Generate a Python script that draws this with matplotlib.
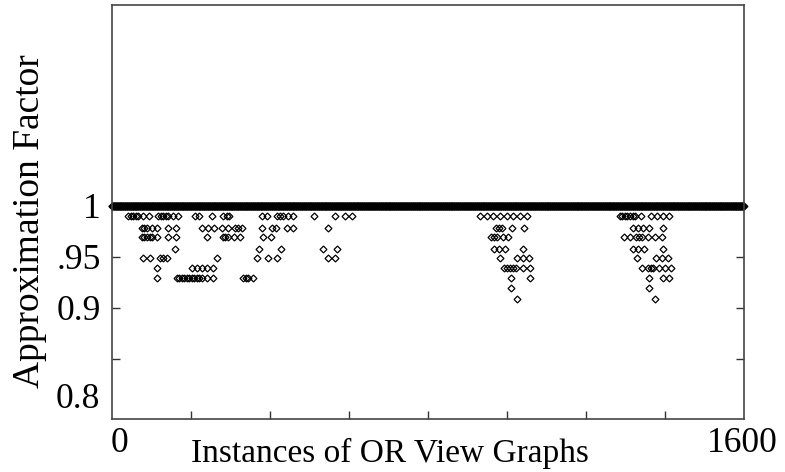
import numpy as np
import matplotlib
matplotlib.use("Agg")
import matplotlib.pyplot as plt

plt.rcParams['font.family'] = ['Liberation Serif', 'DejaVu Serif']

# number of instances, every one of them reaches factor 1
n_instances = 1600

# instances whose factor falls below 1 (x = instance index), grouped by level
x_990 = [41, 48, 54, 60, 67, 79, 94, 117, 124, 130, 137, 143, 155, 168,
         210, 221, 252, 282, 290, 297, 379, 392, 417, 425, 432, 446, 459,
         512, 565, 590, 607, 932, 949, 965, 982, 999, 1016, 1033, 1051,
         1286, 1292, 1299, 1305, 1311, 1318, 1324, 1338, 1364, 1379, 1394, 1409]
x_978 = [75, 82, 88, 101, 113, 143, 162, 227, 244, 259, 278, 294, 311, 320, 328,
         379, 404, 415, 442, 459, 548, 972, 980, 987, 1013, 1044,
         1318, 1332, 1345, 1360, 1396]
x_969 = [75, 82, 88, 95, 101, 115, 143, 162, 240, 280, 287, 294, 309, 324,
         382, 402, 959, 967, 974, 989, 1003,
         1296, 1311, 1327, 1334, 1342, 1358, 1375, 1392]
x_958 = [159, 373, 427, 535, 570, 967, 981, 995, 1041, 1318, 1332, 1347, 1396]
x_949 = [79, 96, 122, 130, 138, 265, 366, 396, 417, 548, 565,
         982, 1026, 1041, 1056, 1330, 1376, 1392, 1408]
x_939 = [113, 202, 214, 227, 240, 256, 992, 1000, 1008, 1016, 1023, 1040, 1058,
         1343, 1358, 1364, 1370, 1386, 1400, 1414]
x_929 = [113, 164, 170, 176, 182, 189, 196, 202, 208, 214, 221, 227, 240, 255,
         332, 338, 345, 358, 1009, 1058, 1360, 1396, 1411]
x_919 = [1009, 1360]
x_909 = [1025, 1375]

levels = [0.990, 0.978, 0.969, 0.958, 0.949, 0.939, 0.929, 0.919, 0.909]
groups = [x_990, x_978, x_969, x_958, x_949, x_939, x_929, x_919, x_909]

fig = plt.figure(figsize=(7.85, 4.72), dpi=100)
ax = fig.add_axes([112/785, 53/472, 632/785, 414/472])

mk = dict(marker='D', ms=3.5, mfc='none', mec='black', mew=0.9,
          linestyle='none', clip_on=False)

x_all = np.arange(n_instances)
ax.plot(x_all, np.ones(n_instances), **mk)
for lev, xs in zip(levels, groups):
  ax.plot(xs, [lev] * len(xs), **mk)

ax.set_xlim(0, 1600)
ax.set_ylim(0.791, 1.197)

ax.set_xticks(np.arange(200, 1600, 200))
ax.set_xticklabels([])
ax.set_yticks([0.85, 0.9, 0.95, 1.0])
ax.set_yticklabels(['', '0.9', '.95', '1'])
ax.tick_params(axis='both', direction='in', length=6, width=1, colors='#333333',
               labelcolor='black', labelsize=25.5, pad=8)
ax.tick_params(axis='y', right=True)
ax.tick_params(axis='x', top=False)

for s in ax.spines.values():
  s.set_color('#444444')
  s.set_linewidth(1.2)

ax.text(-0.019, 0.81, '0.8', transform=ax.get_yaxis_transform(),
        ha='right', va='center', fontsize=25.5)
ax.text(8/632, -0.058, '0', transform=ax.transAxes,
        ha='center', va='center', fontsize=25.5)
ax.text(630/632, -0.058, '1600', transform=ax.transAxes,
        ha='center', va='center', fontsize=25.5)

fig.text(390/785, 1 - 453/472, 'Instances of OR View Graphs',
         ha='center', va='center', fontsize=24)
fig.text(30/785, 1 - 221/472, 'Approximation Factor', rotation=90,
         ha='center', va='center', fontsize=27)

fig.savefig('out.png', dpi=100)
